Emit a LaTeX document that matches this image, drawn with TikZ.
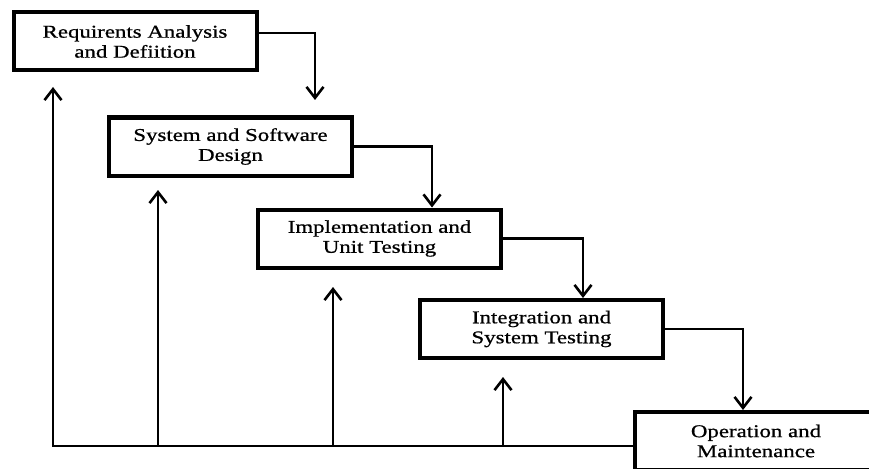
\documentclass[tikz,border=0pt]{standalone}
\usepackage{fontspec}
\setmainfont{Liberation Serif}[FakeStretch=1.27, FakeBold=0.8]
\usepackage{tikz}
\usetikzlibrary{arrows.meta}
\usetikzlibrary{calc}
\tikzstyle{block} = [draw, line width=4pt, rectangle, align=center,
    minimum height=58pt, minimum width=243pt, inner sep=0pt,
    font=\fontsize{18}{20}\selectfont]
\tikzstyle{line} = [draw, line width=2.6pt]

\begin{document}
\begin{tikzpicture}[x=1pt, y=-1pt, >={Straight Barb[length=11pt,width=17pt]}]
    \clip (0,0) rectangle (869,468);

    % phases
    \node [block] (req) at (135,41.5) {Requirents Analysis\\and Defiition};
    \node [block] (design) at (230.5,146.5) {System and Software\\Design};
    \node [block] (impl) at (379.5,238.5) {Implementation and\\Unit Testing};
    \node [block] (integ) at (541.5,329) {Integration and\\System Testing};
    \node [block] (oper) at (756,441) {Operation and\\Maintenance};

    % helper points
    \coordinate (d1) at (315,100);
    \coordinate (d2) at (432,0);
    \coordinate (d3) at (583,0);
    \coordinate (d4) at (743,0);
    \coordinate (base) at (53,446);
    \coordinate (f1) at (53,87);
    \coordinate (f2) at (158,190);
    \coordinate (f3) at (333,287);
    \coordinate (f4) at (503,377);

    % forward flow
    \draw [line,->] ($(req.east)+(0,-8.5)$) -| (d1);
    \draw [line,->] (design.east) -| (d2 |- impl.north);
    \draw [line,->] (impl.east) -| (d3 |- integ.north);
    \draw [line,->] (integ.east) -| (d4 |- oper.north);

    % feedback
    \draw [line,->] (oper.west |- base) -- (base) -- (f1);
    \foreach \f in {f2,f3,f4}
        \draw [line,->] (\f |- base) -- (\f);
\end{tikzpicture}
\end{document}
